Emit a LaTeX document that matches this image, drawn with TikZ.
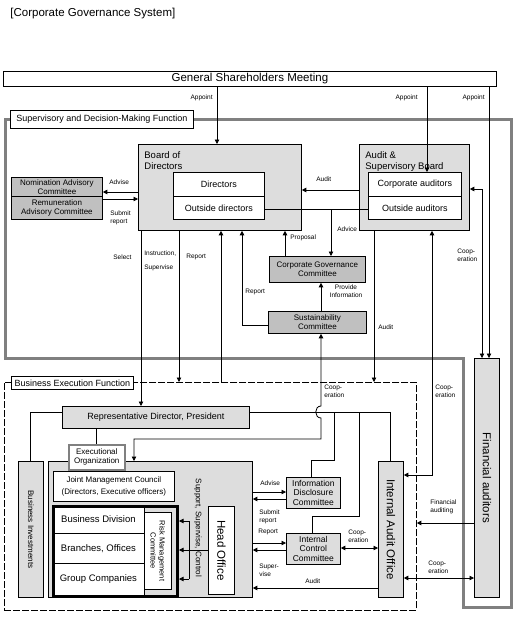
\documentclass[tikz,border=0pt]{standalone}
\usepackage{fontspec}
\setmainfont{Liberation Sans}
\usepackage{xcolor}
\usepackage{tikz}
\usetikzlibrary{positioning,calc,arrows.meta}
\definecolor{boxgray}{RGB}{221,221,221}
\definecolor{comgray}{RGB}{192,192,192}
\definecolor{framegray}{RGB}{128,128,128}

\begin{document}
\begin{tikzpicture}[x=1pt,y=-1pt,
    >={Triangle[length=4.5pt,width=4.5pt]},
    line width=0.8pt,
    box/.style={draw, inner sep=0pt, anchor=north west, align=center},
    wh/.style 2 args={minimum width=#1pt, minimum height=#2pt},
    big/.style={font=\fontsize{11.5}{13}\selectfont},
    mid/.style={font=\fontsize{9}{10.5}\selectfont},
    com/.style={font=\fontsize{8}{9}\selectfont},
    lbl/.style={font=\fontsize{6.5}{8}\selectfont, inner sep=0pt, align=left}]
    \useasboundingbox (0,0) rectangle (514,619);

    \node[anchor=west, inner sep=0pt, big] (title) at (10,14) {[Corporate Governance System]};
    \node[box, wh={493}{15}, big] (gsm) at (3,71) {General Shareholders Meeting};

    % Supervisory side
    \draw[framegray, line width=3pt] (5,119) -- (511,119) -- (511,607) -- (463,607) -- (463,358) -- (5,358) -- cycle;
    \node[box, fill=white, wh={183}{18}, mid] (suplbl) at (10,110) {Supervisory and Decision-Making Function};

    \node[box, fill=boxgray, wh={163}{86}] (bod) at (138,144) {};
    \node[anchor=north west, inner sep=0pt, align=left, font=\fontsize{9.5}{11}\selectfont] (bodtxt) at (144,151) {Board of\\Directors};
    \node[box, fill=white, wh={91}{24}, mid] (dir) at (173,172) {Directors};
    \node[box, fill=white, wh={91}{23}, mid] (odir) at (173,196) {Outside directors};

    \node[box, fill=comgray, wh={91}{19}, com] (nom) at (11,177) {Nomination Advisory\\Committee};
    \node[box, fill=comgray, wh={91}{23}, com] (rem) at (11,196) {Remuneration\\Advisory Committee};

    \node[box, fill=boxgray, wh={110}{86}] (asb) at (359,144) {};
    \node[anchor=north west, inner sep=0pt, align=left, font=\fontsize{9.5}{11}\selectfont] (asbtxt) at (365,151) {Audit \&\\Supervisory Board};
    \node[box, fill=white, wh={93}{24}, mid] (caud) at (368,172) {Corporate auditors};
    \node[box, fill=white, wh={93}{23}, mid] (oaud) at (368,196) {Outside auditors};

    \node[box, fill=comgray, wh={96}{26}, com] (cgc) at (269,256) {Corporate Governance\\Committee};
    \node[box, fill=comgray, wh={98}{22}, com] (sus) at (268,311) {Sustainability\\Committee};

    % Business execution side
    \node[box, dash pattern=on 7pt off 2pt, wh={412}{228}] (bexf) at (4,382) {};
    \node[box, fill=white, wh={122}{13}, mid] (bexlbl) at (11,376) {Business Execution Function};

    \node[box, fill=boxgray, wh={187}{22}, mid] (rep) at (62,406) {Representative Director, President};
    \node[box, fill=boxgray, wh={204}{136}] (main) at (48,461) {};
    \node[box, fill=boxgray, wh={25}{136}] (binv) at (18,461) {};
    \node[rotate=-90, com] (binvtxt) at (binv.center) {Business Investments};
    \node[box, fill=white, draw=framegray, line width=1.5pt, wh={56}{25}, com] (exo) at (68,444) {Executional\\Organization};
    \node[box, fill=white, wh={121}{30}, font=\fontsize{8}{12.5}\selectfont] (jmc) at (53,471) {Joint Management Council\\(Directors, Executive officers)};

    \node[box, fill=white, wh={92}{28}, font=\fontsize{9.5}{11}\selectfont] (bdiv) at (52,505) {Business Division};
    \node[box, fill=white, wh={92}{30}, font=\fontsize{9.5}{11}\selectfont] (brof) at (52,533) {Branches, Offices};
    \node[box, fill=white, wh={92}{32}, font=\fontsize{9.5}{11}\selectfont] (grp) at (52,563) {Group Companies};
    \node[box, fill=white, wh={27}{77}] (risk) at (144,512) {};
    \node[rotate=-90, align=center, font=\fontsize{7.5}{9}\selectfont] (risktxt) at (risk.center) {Risk Management\\Committee};
    \node[box, line width=3pt, wh={124}{90}] (thick) at (52,505) {};

    \node[box, fill=white, wh={26}{88}] (head) at (208,506) {};
    \node[rotate=-90, big] (headtxt) at (head.center) {Head Office};
    \node[rotate=-90, com] (sscx) at (198,528) {Support, Supervise, Control};

    \node[box, fill=boxgray, wh={54}{31}, font=\fontsize{8.5}{9.5}\selectfont] (idc) at (286,477) {Information\\Disclosure\\Committee};
    \node[box, fill=boxgray, wh={54}{31}, font=\fontsize{8.5}{9.5}\selectfont] (icc) at (286,533) {Internal\\Control\\Committee};
    \node[box, fill=boxgray, wh={25}{136}] (iao) at (378,461) {};
    \node[rotate=-90, big] (iaotxt) at (iao.center) {Internal Audit Office};
    \node[box, fill=boxgray, wh={25}{239}] (fa) at (474,358) {};
    \node[rotate=-90, big] (fatxt) at (fa.center) {Financial auditors};

    % appoint
    \draw[->] (gsm.south -| 217,0) -- (bod.north -| 217,0);
    \draw[->] (gsm.south -| 427,0) -- (caud.north -| 427,0);
    \draw[->] (gsm.south -| 489,0) -- (fa.north -| 489,0);
    \node[lbl, anchor=east] (ap1) at (213,98) {Appoint};
    \node[lbl, anchor=east] (ap2) at (418,98) {Appoint};
    \node[lbl, anchor=east] (ap3) at (485,98) {Appoint};

    % board links
    \draw[->] (bod.west |- 0,192) -- (nom.east |- 0,192);
    \draw[->] (rem.east |- 0,199) -- (bod.west |- 0,199);
    \draw[->] (asb.west |- 0,190) -- (bod.east |- 0,190);
    \draw (odir.east |- 0,209) -- (oaud.west |- 0,209);
    \coordinate (advpt) at (331,209);
    \draw[->] (advpt) -- (cgc.north -| advpt);
    \draw[->] (cgc.north -| 285,0) -- (bod.south -| 285,0);
    \draw[->] (sus.north -| 321,0) -- (cgc.south -| 321,0);
    \draw[->] (sus.west |- 0,325) -| (bod.south -| 242,0);
    \node[lbl] (lad1) at (109,182) [anchor=west] {Advise};
    \node[lbl] (lsub1) at (110,218) [anchor=west] {Submit\\report};
    \node[lbl] (laud1) at (316,179) [anchor=west] {Audit};
    \node[lbl] (ladv) at (337,229) [anchor=west] {Advice};
    \node[lbl] (lpro) at (290,238) [anchor=west] {Proposal};
    \node[lbl] (lrep2) at (245,292) [anchor=west] {Report};
    \node[lbl, align=center] (lpinf) at (346,291) {Provide\\Information};

    % down to execution
    \draw[->] (bod.south -| 141,0) -- (rep.north -| 141,0);
    \draw[->] (bod.south -| 179,0) -- (bexf.north -| 179,0);
    \draw[->] (bexf.north -| 221,0) -- (bod.south -| 221,0);
    \draw[->] (asb.south -| 374,0) -- (bexf.north -| 374,0);
    \draw[<->] (asb.south -| 432,0) |- (iao.east |- 0,475);
    \draw[<->] (asb.east |- 0,189) -| (fa.north -| 482,0);
    \node[lbl] (lsel) at (113,257) [anchor=west] {Select};
    \node[lbl] (lins) at (144,261) [anchor=west] {Instruction,\\[6pt]Supervise};
    \node[lbl] (lrep1) at (186,257) [anchor=west] {Report};
    \node[lbl] (laud2) at (378,327) [anchor=west] {Audit};
    \node[lbl] (lco1) at (457,255) [anchor=west] {Coop-\\eration};
    \node[lbl] (lco3) at (435,391) [anchor=west] {Coop-\\eration};

    % president lines
    \draw (rep.west |- 0,412) -| (binv.north -| 30,0);
    \draw (rep.south -| 96,0) -- (exo.north -| 96,0);
    \draw (rep.east |- 0,412) -| (iao.north -| 390,0);
    \coordinate (br1) at (334,412);
    \coordinate (br1b) at (311,460);
    \draw (br1) |- (br1b) -- (idc.north -| br1b);
    \coordinate (br2) at (359,412);
    \coordinate (br2b) at (312,516);
    \draw (br2) |- (br2b) -- (icc.north -| br2b);
    \draw[<->] (main.north -| 134,0) |- (321,439) -- (321,418) .. controls (314,418) and (314,406) .. (321,406) -- (sus.south -| 321,0); % jump
    \node[lbl] (lco2) at (324,391) [anchor=west] {Coop-\\eration};

    % head office to units
    \coordinate (hbr) at (189,550);
    \draw (head.west |- hbr) -- (hbr);
    \draw (hbr |- 0,521) -- (hbr |- 0,579);
    \foreach \y in {521,550,579}
        \draw[->] (hbr |- 0,\y) -- (thick.east |- 0,\y);

    % committees and audit
    \draw[->] (main.east |- 0,492) -- (idc.west |- 0,492);
    \draw[->] (idc.west |- 0,499) -- (main.east |- 0,499);
    \draw[->] (main.east |- 0,543) -- (icc.west |- 0,543);
    \draw[->] (icc.west |- 0,550) -- (main.east |- 0,550);
    \draw[->] (iao.west |- 0,588) -- (main.east |- 0,588);
    \draw[<->] (icc.east |- 0,548) -- (iao.west |- 0,548);
    \draw[->] (fa.west |- 0,523) -- (bexf.east |- 0,523);
    \draw[<->] (iao.east |- 0,578) -- (fa.west |- 0,578);
    \node[lbl] (lad2) at (260,483) [anchor=west] {Advise};
    \node[lbl] (lsub2) at (259,517) [anchor=west] {Submit\\report};
    \node[lbl] (lrep3) at (258,532) [anchor=west] {Report};
    \node[lbl] (lsup) at (259,570) [anchor=west] {Super-\\vise};
    \node[lbl] (laud3) at (305,581) [anchor=west] {Audit};
    \node[lbl] (lco4) at (348,536) [anchor=west] {Coop-\\eration};
    \node[lbl] (lfin) at (430,507) [anchor=west] {Financial\\auditing};
    \node[lbl] (lco5) at (428,567) [anchor=west] {Coop-\\eration};
\end{tikzpicture}
\end{document}
